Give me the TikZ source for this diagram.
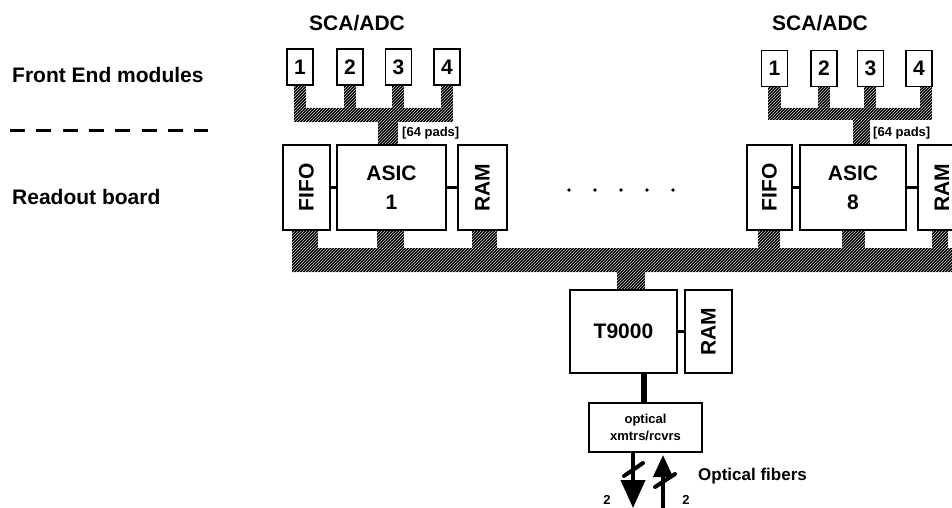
\documentclass[tikz,border=0pt]{standalone}
\usepackage{fontspec}
\setmainfont{Liberation Sans}
\usetikzlibrary{patterns,arrows.meta,calc}
\tikzset{
  box/.style={draw=black, line width=1.3pt, fill=white, inner sep=0pt, font=\bfseries\fontsize{21}{29}\selectfont, align=center},
  febox/.style={box, minimum width=26pt, minimum height=36pt},
  bus/.style={fill=black, postaction={pattern=north east lines, pattern color=white!80!black}},
  conn/.style={line width=3pt},
  small/.style={font=\bfseries\fontsize{13}{15}\selectfont, inner sep=0pt},
  big/.style={font=\bfseries\fontsize{21}{25}\selectfont, inner sep=0pt},
  fiber/.style={line width=4pt},
}
\begin{document}
\begin{tikzpicture}[x=1pt,y=-1pt]
\useasboundingbox (0,0) rectangle (952,508);
\clip (0,0) rectangle (952,508);

% left labels
\node[big, anchor=west] (fe) at (12,75) {Front End modules};
\node[big, anchor=west] (rb) at (12,197) {Readout board};
\coordinate (d1) at (10,130);
\coordinate (d2) at (208,130);
\draw[line width=3pt, dash pattern=on 15pt off 11.3pt] (d1) -- (d2);

% front-end buses
\fill[bus] (294,85) rectangle (306,122);
\fill[bus] (344,85) rectangle (356,122);
\fill[bus] (392,85) rectangle (404,122);
\fill[bus] (441,85) rectangle (453,122);
\fill[bus] (294,108) rectangle (453,122);
\fill[bus] (378,122) rectangle (398,146);

\fill[bus] (768,86) rectangle (781,120);
\fill[bus] (818,86) rectangle (830,120);
\fill[bus] (864,86) rectangle (876,120);
\fill[bus] (920,86) rectangle (932,120);
\fill[bus] (768,108) rectangle (932,120);
\fill[bus] (853,120) rectangle (870,146);

% main bus
\fill[bus] (292,248) rectangle (952,272);
\fill[bus] (292,228) rectangle (318,248);
\fill[bus] (377,228) rectangle (404,248);
\fill[bus] (472,228) rectangle (497,248);
\fill[bus] (758,228) rectangle (780,248);
\fill[bus] (842,228) rectangle (865,248);
\fill[bus] (932,228) rectangle (948,248);
\fill[bus] (617,272) rectangle (645,291);

% SCA/ADC group 1
\node[big] (sca1) at (357,23) {SCA/ADC};
\node[febox] (a1) at (300,67) {1};
\node[febox] (a2) at (350,67) {2};
\node[febox] (a3) at (398.5,67) {3};
\node[febox] (a4) at (447,67) {4};
\node[small, anchor=west] (p1) at (402,133) {[64 pads]};

% SCA/ADC group 8
\node[big] (sca8) at (820,23) {SCA/ADC};
\node[febox] (b1) at (774.5,68.5) {1};
\node[febox] (b2) at (824,68.5) {2};
\node[febox] (b3) at (870.5,68.5) {3};
\node[febox] (b4) at (919,68.5) {4};
\node[small, anchor=west] (p8) at (873,133) {[64 pads]};

% readout row
\node[box, minimum width=47pt, minimum height=85pt] (fifo1) at (306.5,187.5) {\rotatebox{90}{FIFO}};
\node[box, minimum width=109pt, minimum height=85pt] (asic1) at (391.5,187.5) {ASIC\\1};
\node[box, minimum width=49pt, minimum height=85pt] (ram1) at (482.5,187.5) {\rotatebox{90}{RAM}};
\draw[conn] (fifo1.east) -- (asic1.west);
\draw[conn] (asic1.east) -- (ram1.west);

\foreach \i/\xx in {1/569,2/595,3/621,4/647,5/673}
  \fill (\xx,190) circle (1.8pt);

\node[box, minimum width=45pt, minimum height=85pt] (fifo8) at (769.5,187.5) {\rotatebox{90}{FIFO}};
\node[box, minimum width=106pt, minimum height=85pt] (asic8) at (853,187.5) {ASIC\\8};
\node[box, minimum width=48pt, minimum height=85pt] (ram8) at (942,187.5) {\rotatebox{90}{RAM}};
\draw[conn] (fifo8.east) -- (asic8.west);
\draw[conn] (asic8.east) -- (ram8.west);

% T9000
\node[box, minimum width=107pt, minimum height=83pt] (t9) at (623.5,331.5) {T9000};
\node[box, minimum width=47pt, minimum height=83pt] (tram) at (708.5,331.5) {\rotatebox{90}{RAM}};
\draw[conn] (t9.east) -- (tram.west);

\node[box, minimum width=113pt, minimum height=49pt, font=\bfseries\fontsize{13}{17}\selectfont] (opt) at (645.5,427.5) {optical\\xmtrs/rcvrs};
\coordinate (s1) at (644,373);
\draw[line width=6pt] (s1) -- (s1 |- opt.north);

% fibers
\coordinate (f1) at (633,452);
\coordinate (f1e) at (633,508);
\coordinate (f2) at (663,508);
\coordinate (f2e) at (663,455);
\draw[fiber, -{Triangle[length=28pt,width=24pt]}] (f1) -- (f1e);
\draw[fiber, -{Triangle[length=22pt,width=19pt]}] (f2) -- (f2e);
\draw[line width=4pt, line cap=round] (624,476) -- (643,463);
\draw[line width=4pt, line cap=round] (655,487) -- (675,474);
\node[small] (n1) at (607,500) {2};
\node[small] (n2) at (686,500) {2};
\node[font=\bfseries\fontsize{17}{20}\selectfont, inner sep=0pt, anchor=west] (of) at (698,476) {Optical fibers};
\end{tikzpicture}
\end{document}
